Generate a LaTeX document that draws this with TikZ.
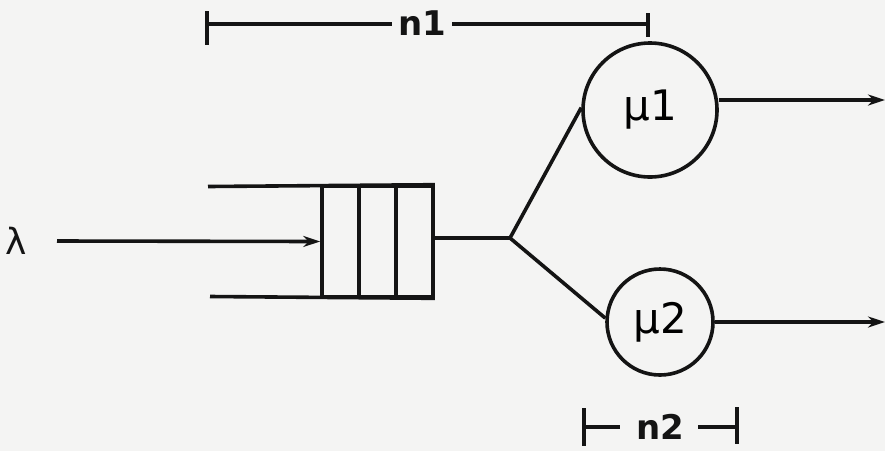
\documentclass[tikz,border=0pt]{standalone}
\usepackage{fontspec}
\setmainfont{DejaVu Sans}
\usetikzlibrary{arrows.meta}
\definecolor{paper}{RGB}{244,244,243}
\definecolor{ink}{RGB}{20,20,20}
\begin{document}
\begin{tikzpicture}[x=1pt,y=-1pt,
  wire/.style={draw=ink,line width=3.6pt},
  flow/.style={wire,-{Stealth[length=17pt,width=11pt]}},
  server/.style={circle,draw=ink,line width=3.6pt,inner sep=0pt,font=\fontsize{42}{42}\selectfont},
  lbl/.style={inner sep=0pt,text=ink,font=\fontsize{34}{34}\selectfont\bfseries},
  slot/.style={rectangle,draw=ink,line width=3.6pt,minimum width=37pt,minimum height=110pt,inner sep=0pt}]
  % page
  \fill[paper] (0,0) rectangle (885,451);
  \useasboundingbox (0,0) rectangle (885,451);

  % queue: three slots between two rails
  \node[slot] (s1) at (340.5,241.5) {};
  \node[slot] (s2) at (377.5,241.5) {};
  \node[slot] (s3) at (414.5,241.5) {};
  \coordinate (railTop) at (208,186.5);
  \coordinate (railBot) at (210,296.5);
  \draw[wire] (railTop) -- (s3.north east);
  \draw[wire] (railBot) -- (s3.south east);

  % arrival
  \node[inner sep=0pt,text=ink,font=\fontsize{36}{36}\selectfont] (lam) at (16,241) {λ};
  \coordinate (inStart) at (57,241);
  \draw[flow] (inStart) -- (s1.west);

  % servers
  \node[server,minimum size=134pt] (m1) at (650,110) {μ1};
  \node[server,minimum size=106pt] (m2) at (660,322) {μ2};
  \coordinate (split) at (510,238);
  \draw[wire] (s3.east |- split) -- (split);
  \draw[wire] (split) -- (m1.178);
  \draw[wire] (split) -- (m2.176);

  % departures
  \coordinate (out1) at (885,100);
  \coordinate (out2) at (885,322);
  \draw[flow] (m1.east |- out1) -- (out1);
  \draw[flow] (m2.east) -- (out2);

  % span n1
  \node[lbl] (n1) at (422,23) {n1};
  \coordinate (a1) at (207,24);
  \coordinate (b1) at (648,24);
  \draw[wire] (207,11) -- (207,45);
  \draw[wire] (648,13) -- (648,37);
  \draw[wire] (a1) -- ([xshift=-6pt]n1.west |- a1);
  \draw[wire] ([xshift=6pt]n1.east |- b1) -- (b1);

  % span n2
  \node[lbl] (n2) at (660,427) {n2};
  \coordinate (a2) at (584,427);
  \coordinate (b2) at (737,427);
  \draw[wire] (584,408) -- (584,446);
  \draw[wire] (737,407) -- (737,444);
  \draw[wire] (a2) -- (620,427);
  \draw[wire] (698,427) -- (b2);
\end{tikzpicture}
\end{document}
